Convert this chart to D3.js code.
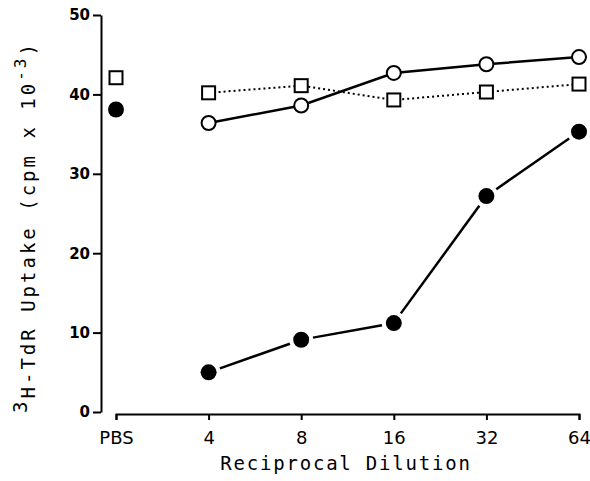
<!DOCTYPE html>
<html>
<head>
<meta charset="utf-8">
<script src="https://cdn.jsdelivr.net/npm/d3@7"></script>
<style>
  body { margin: 0; background: #fff; }
  svg { display: block; }
  .tick text { font-family: "DejaVu Sans", sans-serif; fill: #000; }
  .yaxis .tick text { font-size: 15px; font-weight: bold; }
  .xaxis .tick text { font-size: 18px; }
  .axis path, .axis line { stroke: #000; stroke-width: 2; }
  .title { font-family: "DejaVu Sans Mono", monospace; font-size: 19px; fill: #000; }
</style>
</head>
<body>
<div id="chart"></div>
<script>
// dilution categories along the x axis
var categories = ["PBS", "4", "8", "16", "32", "64"];
var yTicks = [0, 10, 20, 30, 40, 50];

// values (cpm x 10^-3)
var filledPBS = 38.1;
var filledVals = [5.0, 9.1, 11.2, 27.2, 35.3];
var openVals = [36.4, 38.6, 42.7, 43.8, 44.7];
var squarePBS = 42.1;
var squareVals = [40.2, 41.1, 39.3, 40.3, 41.3];

var svgWidth = 590;
var svgHeight = 481;

var svg = d3.select("#chart")
    .append("svg")
    .attr("width", svgWidth)
    .attr("height", svgHeight);

var xScale = d3.scalePoint()
    .domain(categories)
    .range([116, 579]);

var yScale = d3.scaleLinear()
    .domain([0, 50])
    .range([412, 15]);

var dil = categories.slice(1);

// y axis
svg.append("g")
    .attr("class", "axis yaxis")
    .attr("transform", "translate(101,0)")
    .call(d3.axisLeft(yScale).tickValues(yTicks).tickSize(8).tickSizeOuter(0).tickPadding(3));

// x axis
svg.append("g")
    .attr("class", "axis xaxis")
    .attr("transform", "translate(0,414)")
    .call(d3.axisBottom(xScale).tickSize(6).tickSizeOuter(6).tickPadding(11));

// axis titles
svg.append("text")
    .attr("class", "title")
    .attr("x", 346)
    .attr("y", 470)
    .attr("text-anchor", "middle")
    .attr("letter-spacing", "1.8")
    .text("Reciprocal Dilution");

var yTitle = svg.append("text")
    .attr("class", "title")
    .attr("transform", "translate(35,227) rotate(-90)")
    .attr("text-anchor", "middle")
    .attr("letter-spacing", "3");
yTitle.append("tspan").attr("dy", -8).text("3");
yTitle.append("tspan").attr("dy", 8).text("H-TdR Uptake (cpm x 10");
yTitle.append("tspan").attr("dy", -9).attr("font-size", "16px").text("-3");
yTitle.append("tspan").attr("dy", 9).text(")");

// dotted line for squares
var line = d3.line()
    .x(d => xScale(d[0]))
    .y(d => yScale(d[1]));

var squarePts = dil.map((c, i) => [c, squareVals[i]]);
svg.append("path")
    .datum(squarePts)
    .attr("d", line)
    .attr("fill", "none")
    .attr("stroke", "#000")
    .attr("stroke-width", 2)
    .attr("stroke-dasharray", "2,3");

// solid line for open circles
var openPts = dil.map((c, i) => [c, openVals[i]]);
svg.append("path")
    .datum(openPts)
    .attr("d", line)
    .attr("fill", "none")
    .attr("stroke", "#000")
    .attr("stroke-width", 2.5);

// filled circle line, broken short of each marker
var filledPts = dil.map((c, i) => [xScale(c), yScale(filledVals[i])]);
var gap = 12;
for (var i = 0; i < filledPts.length - 1; i++) {
    var a = filledPts[i], b = filledPts[i + 1];
    var dx = b[0] - a[0], dy = b[1] - a[1];
    var len = Math.sqrt(dx * dx + dy * dy);
    var ux = dx / len, uy = dy / len;
    svg.append("line")
        .attr("x1", a[0] + ux * gap)
        .attr("y1", a[1] + uy * gap)
        .attr("x2", b[0] - ux * gap)
        .attr("y2", b[1] - uy * gap)
        .attr("stroke", "#000")
        .attr("stroke-width", 2.5);
}

// square markers
var sqSize = 13;
svg.selectAll(".sq")
    .data([["PBS", squarePBS]].concat(squarePts))
    .enter()
    .append("rect")
    .attr("x", d => xScale(d[0]) - sqSize / 2)
    .attr("y", d => yScale(d[1]) - sqSize / 2)
    .attr("width", sqSize)
    .attr("height", sqSize)
    .attr("fill", "#fff")
    .attr("stroke", "#000")
    .attr("stroke-width", 2);

// open circles
svg.selectAll(".oc")
    .data(openPts)
    .enter()
    .append("circle")
    .attr("cx", d => xScale(d[0]))
    .attr("cy", d => yScale(d[1]))
    .attr("r", 7)
    .attr("fill", "#fff")
    .attr("stroke", "#000")
    .attr("stroke-width", 2);

// filled circles
svg.selectAll(".fc")
    .data([["PBS", filledPBS]].concat(dil.map((c, i) => [c, filledVals[i]])))
    .enter()
    .append("circle")
    .attr("cx", d => xScale(d[0]))
    .attr("cy", d => yScale(d[1]))
    .attr("r", 8)
    .attr("fill", "#000");
</script>
</body>
</html>
